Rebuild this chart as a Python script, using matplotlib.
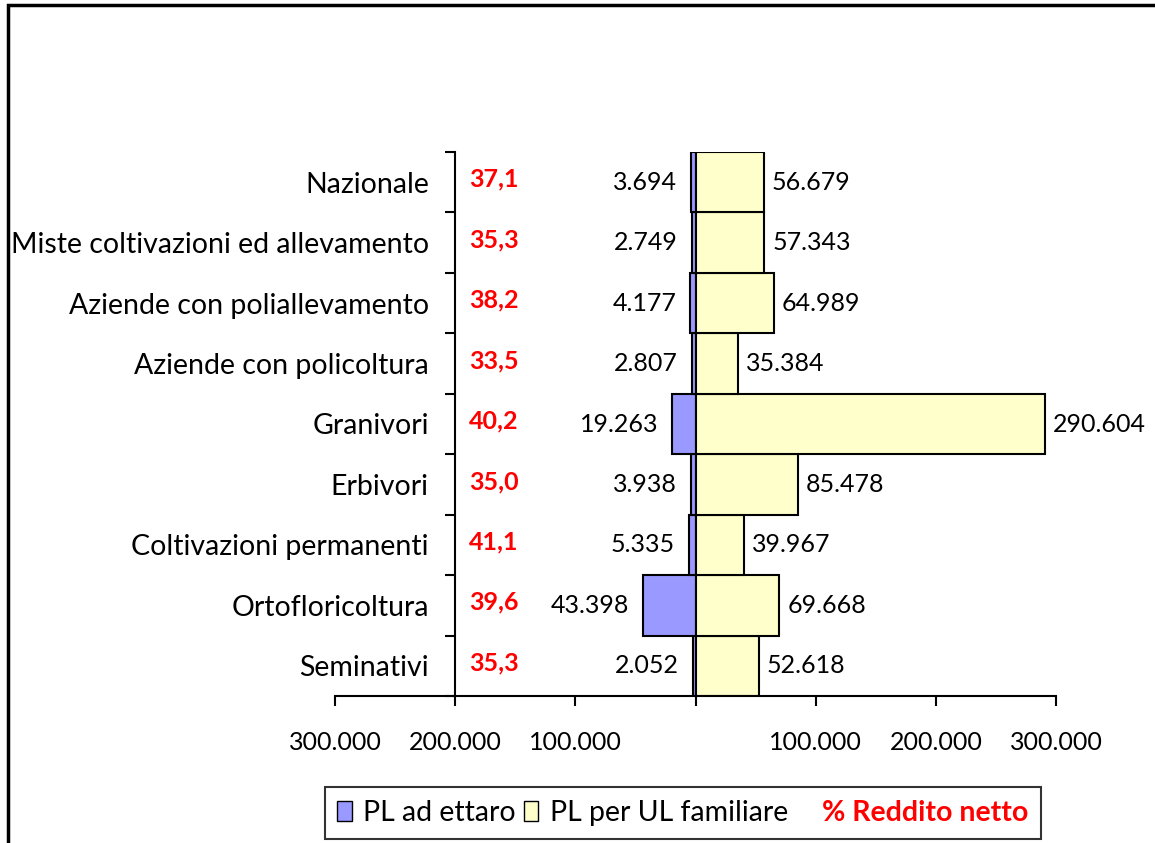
import matplotlib
matplotlib.use("Agg")
import matplotlib.pyplot as plt
from matplotlib.patches import Rectangle, Patch

plt.rcParams['font.family'] = ['Lato', 'DejaVu Sans']

categorie = ["Seminativi", "Ortofloricoltura", "Coltivazioni permanenti", "Erbivori",
             "Granivori", "Aziende con policoltura", "Aziende con poliallevamento",
             "Miste coltivazioni ed allevamento", "Nazionale"]
pl_ettaro = [2052, 43398, 5335, 3938, 19263, 2807, 4177, 2749, 3694]
pl_ul = [52618, 69668, 39967, 85478, 290604, 35384, 64989, 57343, 56679]
reddito = [35.3, 39.6, 41.1, 35.0, 40.2, 33.5, 38.2, 35.3, 37.1]
xticks = [-300000, -200000, -100000, 0, 100000, 200000, 300000]
xticklabels = ["300.000", "200.000", "100.000", "", "100.000", "200.000", "300.000"]

def fmt(v):
    return f"{v:,}".replace(",", ".")

W, H = 1155, 843
fig = plt.figure(figsize=(W / 100, H / 100), dpi=100)
ax = fig.add_axes([335 / W, 1 - 696 / H, 721 / W, 544 / H])

y = range(len(categorie))
ax.barh(y, [-v for v in pl_ettaro], height=1.0, color="#9999FF", edgecolor="black", linewidth=1.5)
ax.barh(y, pl_ul, height=1.0, color="#FFFFCC", edgecolor="black", linewidth=1.5)

fs = 18
fs_txt = 20.5
for i in y:
    ax.annotate(fmt(pl_ettaro[i]), (-pl_ettaro[i], i), xytext=(-14, 0), textcoords="offset pixels",
                ha="right", va="center", fontsize=fs)
    ax.annotate(fmt(pl_ul[i]), (pl_ul[i], i), xytext=(8, 0), textcoords="offset pixels",
                ha="left", va="center", fontsize=fs)
    ax.text(-168000, i + 0.05, f"{reddito[i]:.1f}".replace(".", ","), ha="center", va="center",
            fontsize=fs, color="red", fontweight="bold")

ax.set_xlim(-300000, 300000)
ax.set_ylim(-0.5, len(categorie) - 0.5)
ax.set_xticks(xticks)
ax.set_xticklabels(xticklabels, fontsize=fs)
ax.set_yticks([i - 0.5 for i in range(len(categorie) + 1)])
ax.set_yticklabels([])
ax.set_yticks(list(y), minor=True)
ax.set_yticklabels(categorie, minor=True)
ax.tick_params(axis="y", which="minor", length=0, pad=19, labelsize=fs_txt)
ax.tick_params(axis="y", which="major", length=7.2, width=1.5, direction="out")
ax.tick_params(axis="x", length=7.2, width=1.5, direction="out", pad=18, labelsize=fs)

for s in ["top", "right"]:
    ax.spines[s].set_visible(False)
ax.spines["left"].set_position(("data", -200000))
ax.spines["left"].set_linewidth(1.5)
ax.spines["bottom"].set_linewidth(1.5)

# cornice esterna
fig.patches.append(Rectangle((8 / W, -0.1), 1.2, 1.1 - 5 / H, transform=fig.transFigure,
                             fill=False, edgecolor="black", linewidth=2.5))

handles = [Patch(facecolor="#9999FF", edgecolor="black"),
           Patch(facecolor="#FFFFCC", edgecolor="black"),
           Patch(facecolor="none", edgecolor="none")]
leg = fig.legend(handles, ["PL ad ettaro", "PL per UL familiare", "% Reddito netto"],
                 loc="center", bbox_to_anchor=(683 / W, 1 - 813 / H), ncol=3, fontsize=fs_txt,
                 frameon=True, fancybox=False, edgecolor="black", handlelength=0.5,
                 handleheight=0.7, handletextpad=0.4, columnspacing=0.3, borderpad=0.45,
                 borderaxespad=0)
leg.get_frame().set_linewidth(1.5)
t = leg.get_texts()[2]
t.set_color("red")
t.set_fontweight("bold")

fig.savefig("out.png", dpi=100)
